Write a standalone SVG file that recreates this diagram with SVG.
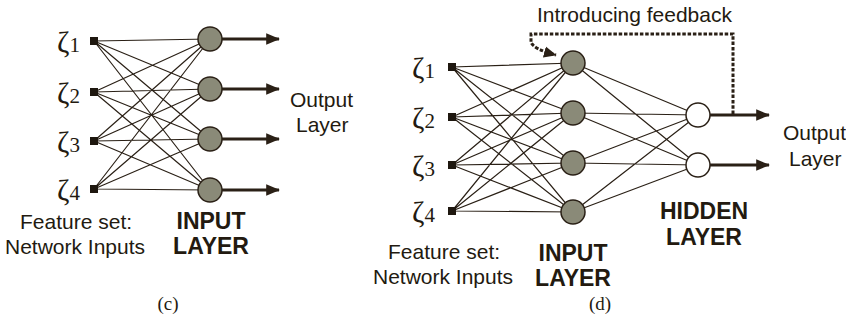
<svg xmlns="http://www.w3.org/2000/svg" width="846" height="330" viewBox="0 0 846 330">
<style>
.bg{fill:#ffffff}
.w{stroke:#2a2016;stroke-width:1.2;fill:none}
.sq{fill:#1e170f}
.n{fill:#8a8a78;stroke:#2a2016;stroke-width:1.5}
.h{fill:#ffffff;stroke:#2a2016;stroke-width:1.5}
.out{stroke:#2a2016;stroke-width:3.2;fill:none}
.fb{stroke:#2a2016;stroke-width:3;fill:none;stroke-dasharray:3.5 1.8}
.t{font-family:"Liberation Sans",Arial,sans-serif;font-size:21px;fill:#231a10}
.b{font-family:"Liberation Sans",Arial,sans-serif;font-size:23px;font-weight:bold;fill:#231a10;text-anchor:middle}
.z{font-family:"Liberation Serif","Times New Roman",serif;font-size:30px;fill:#231a10}
.zs{font-size:21px}
.cap{font-family:"Liberation Serif","Times New Roman",serif;font-size:19px;fill:#231a10;text-anchor:middle}
</style>
<defs>
<marker id="ah" markerWidth="4.5" markerHeight="4" refX="4" refY="2" orient="auto" markerUnits="strokeWidth">
<path d="M0,0.2 L4.3,2 L0,3.8 Z" fill="#2a2016"/>
</marker>
<marker id="fa" markerWidth="5" markerHeight="5" refX="4" refY="2.5" orient="auto" markerUnits="strokeWidth">
<path d="M0,0.6 L4.2,2.5 L0,4.4 Z" fill="#2a2016"/>
</marker>
</defs>
<rect class="bg" x="0" y="0" width="846" height="330"/>

<g id="connectors">
<path class="w" d="M94,41 L210,39 M94,41 L210,89 M94,41 L210,139 M94,41 L210,190
M94,92 L210,39 M94,92 L210,89 M94,92 L210,139 M94,92 L210,190
M94,141 L210,39 M94,141 L210,89 M94,141 L210,139 M94,141 L210,190
M94,189 L210,39 M94,189 L210,89 M94,189 L210,139 M94,189 L210,190"/>
<path class="out" marker-end="url(#ah)" d="M222,39 H279"/>
<path class="out" marker-end="url(#ah)" d="M222,89 H279"/>
<path class="out" marker-end="url(#ah)" d="M222,139 H279"/>
<path class="out" marker-end="url(#ah)" d="M222,190 H279"/>
<path class="w" d="M452,67 L573,63 M452,67 L573,113 M452,67 L573,163 M452,67 L573,212
M452,117 L573,63 M452,117 L573,113 M452,117 L573,163 M452,117 L573,212
M452,165 L573,63 M452,165 L573,113 M452,165 L573,163 M452,165 L573,212
M452,211 L573,63 M452,211 L573,113 M452,211 L573,163 M452,211 L573,212"/>
<path class="w" d="M573,63 L698,115 M573,63 L698,165 M573,113 L698,115 M573,113 L698,165
M573,163 L698,115 M573,163 L698,165 M573,212 L698,115 M573,212 L698,165"/>
<path class="out" marker-end="url(#ah)" d="M710,115 H769"/>
<path class="out" marker-end="url(#ah)" d="M710,165 H769"/>
<path class="fb" marker-end="url(#fa)" d="M733,114 V34 H531 V42 Q533,49 556,55"/>
</g>

<g id="c-inputs">
<rect class="sq" x="90" y="37" width="8" height="8"/>
<rect class="sq" x="90" y="88" width="8" height="8"/>
<rect class="sq" x="90" y="137" width="8" height="8"/>
<rect class="sq" x="90" y="185" width="8" height="8"/>
<text class="z" x="57" y="52">ζ<tspan class="zs">1</tspan></text>
<text class="z" x="57" y="103">ζ<tspan class="zs">2</tspan></text>
<text class="z" x="57" y="152">ζ<tspan class="zs">3</tspan></text>
<text class="z" x="57" y="200">ζ<tspan class="zs">4</tspan></text>
</g>
<g id="c-layer">
<circle class="n" cx="210" cy="39" r="12"/>
<circle class="n" cx="210" cy="89" r="12"/>
<circle class="n" cx="210" cy="139" r="12"/>
<circle class="n" cx="210" cy="190" r="12"/>
</g>
<g id="c-labels">
<text class="t" x="290" y="107">Output</text>
<text class="t" x="296" y="132">Layer</text>
<text class="t" x="20" y="229">Feature set:</text>
<text class="t" x="5" y="254">Network Inputs</text>
<text class="b" x="211" y="229">INPUT</text>
<text class="b" x="211" y="254">LAYER</text>
<text class="cap" x="168" y="310">(c)</text>
</g>

<g id="d-inputs">
<rect class="sq" x="448" y="63" width="8" height="8"/>
<rect class="sq" x="448" y="113" width="8" height="8"/>
<rect class="sq" x="448" y="161" width="8" height="8"/>
<rect class="sq" x="448" y="207" width="8" height="8"/>
<text class="z" x="412" y="78">ζ<tspan class="zs">1</tspan></text>
<text class="z" x="412" y="128">ζ<tspan class="zs">2</tspan></text>
<text class="z" x="412" y="176">ζ<tspan class="zs">3</tspan></text>
<text class="z" x="412" y="222">ζ<tspan class="zs">4</tspan></text>
</g>
<g id="d-input-layer">
<circle class="n" cx="573" cy="63" r="12"/>
<circle class="n" cx="573" cy="113" r="12"/>
<circle class="n" cx="573" cy="163" r="12"/>
<circle class="n" cx="573" cy="212" r="12"/>
</g>
<g id="d-hidden-layer">
<circle class="h" cx="698" cy="115" r="12"/>
<circle class="h" cx="698" cy="165" r="12"/>
</g>
<g id="d-labels">
<text class="t" x="537" y="22" font-size="20.5">Introducing feedback</text>
<text class="t" x="783" y="140">Output</text>
<text class="t" x="789" y="166">Layer</text>
<text class="t" x="388" y="259">Feature set:</text>
<text class="t" x="373" y="284">Network Inputs</text>
<text class="b" x="573" y="261">INPUT</text>
<text class="b" x="573" y="286">LAYER</text>
<text class="b" x="704" y="219">HIDDEN</text>
<text class="b" x="704" y="245">LAYER</text>
<text class="cap" x="600" y="310">(d)</text>
</g>
</svg>
